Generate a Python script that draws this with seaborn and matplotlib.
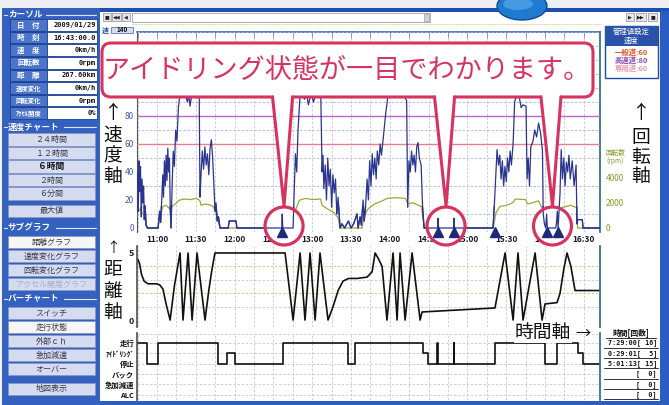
import matplotlib
matplotlib.use("Agg")
import matplotlib.pyplot as plt
import matplotlib.transforms as mtransforms
from matplotlib.patches import Rectangle, FancyBboxPatch, Circle, Polygon, Ellipse
from matplotlib.lines import Line2D
import numpy as np
import seaborn as sns

sns.set_theme(style="white")
plt.rcParams["font.family"] = ["Noto Sans CJK JP", "DejaVu Sans"]
plt.rcParams["axes.unicode_minus"] = False

# ---------------------------------------------------------------- data
# times are minutes after midnight
speed_time = [644.5, 645.0, 645.5, 646.0, 646.6, 647.2, 647.8, 648.4, 649.0, 649.6, 650.2, 650.8, 651.5, 652.5,
              660.8, 662.0, 662.8, 663.6, 664.4, 665.0, 665.7, 666.4, 667.0, 667.7, 668.3, 669.0, 669.6, 670.2,
              670.8, 671.6, 672.5, 673.4, 674.4, 675.4, 676.5, 677.8, 680.0, 682.0, 683.5, 684.5, 685.5, 686.8,
              689.0, 692.6, 693.2, 694.0, 695.0, 696.0, 697.0, 698.0, 699.0, 700.0, 701.0, 702.0, 703.0, 704.0,
              704.8, 705.6, 706.5, 707.5, 708.7, 715.0, 715.8, 721.0, 721.8, 756.4, 756.8, 757.2, 765.2, 766.0,
              767.0, 768.0, 769.0, 770.6, 772.0, 774.0, 775.5, 777.0, 779.0, 781.0, 783.0, 786.6, 787.6, 788.3,
              789.0, 790.0, 791.0, 792.0, 793.0, 794.0, 795.0, 796.0, 797.0, 798.0, 799.0, 800.0, 801.5, 803.0,
              805.0, 808.0, 810.0, 812.0, 814.6, 815.5, 817.0, 818.0, 819.3, 820.2, 821.2, 822.4, 823.4, 824.4,
              825.4, 826.4, 827.4, 828.4, 829.4, 830.3, 831.4, 832.5, 833.5, 835.0, 836.6, 838.6, 841.0, 845.0,
              850.0, 853.0, 853.8, 854.8, 855.8, 856.8, 857.8, 858.8, 859.8, 860.8, 861.8, 862.8, 864.2, 865.3,
              866.5, 876.9, 877.3, 877.7, 889.2, 889.6, 890.0, 919.8, 921.0, 922.9, 924.0, 925.0, 926.0, 927.0,
              928.0, 929.0, 930.0, 931.0, 932.0, 933.0, 934.0, 935.3, 936.5, 938.0, 940.0, 941.5, 943.0, 945.3,
              946.1, 947.0, 948.0, 949.0, 950.7, 952.0, 953.5, 955.0, 956.5, 958.0, 958.6, 959.5, 960.5, 961.2,
              961.8, 968.3, 968.9, 969.5, 970.1, 971.6, 972.5, 973.5, 974.5, 975.5, 976.5, 977.5, 978.5, 979.5,
              981.0, 982.5, 984.0, 984.7, 985.2, 988.8, 989.4, 1002.5]
speed_kmh = [22, 40, 12, 48, 26, 44, 8, 35, 18, 30, 6, 16, 2, 0,
             0, 12, 4, 20, 38, 22, 48, 30, 52, 34, 57, 40, 50, 14,
             0, 28, 55, 44, 70, 62, 86, 96, 99, 95, 90, 96, 87, 95,
             98, 96, 22, 38, 55, 42, 58, 45, 53, 38, 57, 63, 50, 30,
             12, 18, 5, 8, 0, 0, 5, 5, 0, 0, 10, 0, 0, 25,
             53, 40, 70, 95, 99, 92, 97, 88, 96, 90, 97, 96, 40, 52,
             28, 45, 20, 50, 30, 42, 15, 38, 25, 35, 10, 22, 0, 3,
             0, 5, 0, 3, 10, 0, 8, 2, 20, 5, 15, 35, 20, 48,
             30, 53, 38, 50, 35, 55, 45, 60, 52, 65, 80, 95, 99, 97,
             96, 91, 15, 48, 40, 55, 45, 52, 40, 58, 61, 50, 45, 15,
             0, 0, 7, 0, 0, 7, 0, 0, 20, 56, 45, 52, 35, 48,
             30, 44, 33, 50, 40, 55, 45, 60, 90, 95, 94, 86, 88, 87,
             35, 50, 30, 58, 62, 70, 65, 75, 68, 55, 10, 3, 0, 10,
             0, 0, 4, 12, 0, 25, 56, 35, 50, 30, 47, 40, 52, 35,
             48, 30, 45, 3, 6, 6, 0, 0]

rpm_time = [644.5, 647.0, 650.0, 652.5, 660.8, 662.0, 664.5, 667.0, 670.0, 671.5, 674.0, 677.0, 681.0, 686.0,
            690.0, 693.0, 694.0, 697.0, 700.0, 703.0, 705.0, 707.0, 708.7, 765.2, 767.0, 770.0, 775.0, 780.0,
            786.5, 787.5, 792.0, 797.0, 800.0, 801.5, 818.5, 820.0, 823.0, 828.0, 833.0, 838.0, 845.0, 852.0,
            854.0, 858.0, 862.0, 864.5, 866.5, 920.0, 922.0, 925.0, 930.0, 935.0, 937.0, 945.0, 946.5, 950.0,
            955.0, 958.0, 959.5, 971.0, 972.5, 976.0, 980.0, 984.5, 985.2, 1002.5]
rpm_value = [1200, 1500, 1000, 0, 0, 800, 1700, 1800, 1500, 1700, 1900, 2200, 2300, 2250,
             2350, 2200, 1800, 1900, 1850, 1750, 1400, 600, 0, 0, 1400, 2200, 2350, 2250,
             2300, 1800, 1500, 1200, 800, 0, 0, 900, 1500, 1900, 2100, 2350, 2400, 2350,
             1900, 2000, 1800, 1700, 0, 0, 1200, 1700, 1800, 2000, 2300, 2250, 1900, 2000,
             2150, 1500, 0, 0, 1600, 1700, 1800, 1600, 0, 0]

dist_time = [644.5, 645.3, 646.5, 648.0, 650.0, 653.0, 660.0, 662.3, 664.6, 667.0, 670.1, 673.5, 677.8, 680.1,
             684.0, 687.1, 690.9, 697.1, 700.0, 702.5, 704.8, 759.0, 765.2, 770.6, 774.4, 778.3, 782.2, 786.0,
             792.2, 796.1, 800.0, 803.8, 808.0, 814.6, 822.4, 826.3, 828.6, 831.0, 834.0, 837.8, 842.5, 845.6,
             847.9, 851.8, 857.2, 863.4, 864.9, 921.3, 929.1, 935.3, 939.1, 943.0, 952.3, 957.7, 960.0, 969.3,
             971.6, 974.5, 977.0, 980.0, 983.2, 1002.5]
dist_km = [4.6, 4.5, 4.2, 3.4, 2.9, 2.7, 2.7, 2.6, 2.3, 1.2, 0.0, 2.6, 5.0, 0.0,
           5.0, 0.0, 5.0, 0.0, 2.2, 3.8, 5.0, 5.0, 0.0, 5.0, 0.0, 5.0, 0.0, 5.0,
           0.0, 1.0, 2.2, 2.9, 3.1, 3.1, 3.2, 3.6, 5.0, 4.6, 4.0, 0.0, 5.0, 0.0,
           5.0, 0.0, 5.0, 0.0, 0.6, 0.9, 5.0, 0.0, 5.0, 0.0, 5.0, 0.0, 1.2, 1.3,
           2.0, 3.8, 5.0, 4.0, 2.2, 2.2]

status_labels = ["走行", "ｱｲﾄﾞﾘﾝｸﾞ", "停止", "バック", "急加減速", "ALC"]
status_time = [644.5, 652.3, 660.8, 707.2, 714.1, 720.3, 757.4, 807.7, 813.1, 865.7, 869.5, 876.3, 876.9,
               889.3, 889.9, 921.3, 960.0, 969.3, 985.5, 989.4, 1002.5]
status_state = ["走行", "停止", "走行", "停止", "ｱｲﾄﾞﾘﾝｸﾞ", "停止", "走行", "停止", "走行", "ｱｲﾄﾞﾘﾝｸﾞ",
                "停止", "走行", "停止", "走行", "停止", "走行", "停止", "走行", "ｱｲﾄﾞﾘﾝｸﾞ", "停止", "停止"]

idle_events = [756.8, 877.3, 889.6, 921.3, 961.5, 970.0]
idle_groups = [[756.8, 759.6], [877.3, 889.6], [961.5, 970.0]]

time_ticks = ["11:00", "11:30", "12:00", "12:30", "13:00", "13:30", "14:00",
              "14:30", "15:00", "15:30", "16:00", "16:30"]
speed_ticks = [0, 20, 40, 60, 80]
rpm_ticks = [0, 2000, 4000]
limit_names = ["一般道", "高速道", "専用道"]
limit_values = [60, 80, 60]

cursor_labels = ["日　付", "時　刻", "速　度", "回転数", "距　離", "速度変化", "回転変化", "ｱｸｾﾙ開度"]
cursor_values = ["2009/01/29", "16:43:00.0", "0km/h", "0rpm", "267.60km", "0km/h", "0rpm", "0%"]

summary_times = ["7:29:00", "0:29:01", "5:01:13", "", "", ""]
summary_counts = [16, 5, 15, 0, 0, 0]

# ---------------------------------------------------------------- helpers
W, H = 669, 405
fig = plt.figure(figsize=(W / 100, H / 100), dpi=100, facecolor="#f1f2f5")
PX = mtransforms.Affine2D().scale(1 / W, -1 / H).translate(0, 1) + fig.transFigure
PINK = "#d7335f"


def rect(x0, y0, x1, y1, fc, ec="none", lw=0.8, z=-2):
    fig.add_artist(Rectangle((x0, y0), x1 - x0, y1 - y0, transform=PX, facecolor=fc,
                             edgecolor=ec, linewidth=lw, zorder=z))


def text(x, y, s, size, color="black", ha="center", va="center", weight="normal", z=3, **kw):
    fig.text(x, y, s, transform=PX, fontsize=size, color=color, ha=ha, va=va,
             fontweight=weight, zorder=z, **kw)


def line(xs, ys, color, lw=1.0, z=2, **kw):
    fig.add_artist(Line2D(xs, ys, transform=PX, color=color, linewidth=lw, zorder=z, **kw))


def axes_px(x0, y0, x1, y1):
    return fig.add_axes([x0 / W, 1 - y1 / H, (x1 - x0) / W, (y1 - y0) / H])


# ---------------------------------------------------------------- window frame
rect(0, 0, W, 9, "#eceef3", z=-5)
rect(2, 8, 99.5, 405, "#3461bf", z=-4)
rect(99.5, 9, 669, 405, "white", z=-4)
rect(99.5, 8, 669, 11.5, "#1f4fae", z=-3)
rect(660, 11, 669, 405, "#2b5cc2", z=-3)
rect(99.5, 400.5, 669, 405, "#2b5cc2", z=-3)
fig.add_artist(Ellipse((522, 6), 50, 28, transform=PX, facecolor="#1f7ad0", edgecolor="#0d4c90",
                       lw=1, zorder=20))
fig.add_artist(Ellipse((518, 4), 30, 12, transform=PX, facecolor="#5fb0ee", edgecolor="none",
                       alpha=0.6, zorder=21))

# toolbar
for (x0, x1, g) in [(103, 111, "■"), (112, 121, "◀◀"), (122, 130, "◀"),
                    (626, 634, "▶"), (636, 646, "▶▶"), (648, 657, "■")]:
    rect(x0, 13, x1, 21, "#e4e6ea", ec="#8a8f99", lw=0.5, z=1)
    text((x0 + x1) / 2, 17, g, 3.6, color="#222", family=["DejaVu Sans"])
rect(132, 13, 430, 21.5, "white", ec="#9aa0aa", lw=0.6, z=1)
rect(424, 14, 429, 21, "#d0d4da", ec="#8a8f99", lw=0.4, z=1)
line([132, 600], [23.5, 23.5], "#d8c870", 0.6, ls=(0, (2, 1.5)))
text(105, 30, "速", 5, color="#2a50b0", weight="bold")
rect(111, 26.5, 133, 33, "#d4dcf2", ec="#4060a0", lw=0.5, z=1)
text(122, 29.8, "140", 4.6, color="#111", weight="bold")

# ---------------------------------------------------------------- sidebar
def group_header(y, label, x_text_end):
    text(8, y, label, 6.2, color="white", ha="left", weight="bold")
    line([4, 7], [y, y], "#dfe6f7", 0.8)
    line([x_text_end, 96], [y, y], "#dfe6f7", 0.8)


group_header(14.5, "カーソル", 46)
for i, (lab, val) in enumerate(zip(cursor_labels, cursor_values)):
    cy = 25 + i * 12.6
    rect(10, cy - 5.8, 47, cy + 5.8, "#4b74cb", ec="#1d3f8f", lw=0.6, z=1)
    rect(47, cy - 5.8, 97, cy + 5.8, "white", ec="#1d3f8f", lw=0.6, z=1)
    text(28.5, cy, lab, 5.4 if len(lab) < 4 else 4.6, color="white", weight="bold")
    text(96, cy, val, 5.0, color="#111", ha="right", weight="bold", family=["DejaVu Sans Mono"])


def button(y, label, sel=False, bold=False, grey=False, size=5.8):
    rect(8, y - 6.2, 95, y + 6.2, "#f6f6f4" if sel else "#d5dcf0", ec="#8796c8", lw=0.6, z=1)
    color = "#a8afc4" if grey else ("#111" if bold else "#3a3a4a")
    text(51.5, y, label, size, color=color, weight="bold" if bold else "normal")


group_header(127, "速度チャート", 64)
for y, lab in zip([139.5, 153, 166.5, 180, 193.5], ["２４時間", "１２時間", "６時間", "２時間", "６分間"]):
    button(y, lab, bold=(lab == "６時間"), size=6.3 if lab == "６時間" else 5.8)
button(211, "最大値")
group_header(228, "サブグラフ", 56)
button(242, "距離グラフ", sel=True)
button(256, "速度変化グラフ")
button(270, "回転変化グラフ")
button(284, "アクセル開度グラフ", grey=True)
group_header(299, "バーチャート", 64)
for y, lab in zip([313, 327, 341, 355, 369], ["スイッチ", "走行状態", "外部ｃｈ", "急加減速", "オーバー"]):
    button(y, lab, sel=(lab == "走行状態"))
button(389, "地図表示")

# ---------------------------------------------------------------- charts
XMIN, XMAX = 644.5, 1002.5
X0, X1 = 137, 600
RPM_PER_KMH = 111
SPD_LO, SPD_HI = -3, 140
major_minutes = [int(t[:2]) * 60 + int(t[3:]) for t in time_ticks]
minor_minutes = np.arange(645, XMAX, 15)
GRID = dict(color="#c3c7d2", lw=0.6, ls=(0, (3, 2)))
SPEED_COLOR = "#2b3590"
RPM_COLOR = "#9aa838"

# speed / rpm panel
ax_r = axes_px(X0, 32, X1, 232.2)
ax_s = ax_r.twinx()
ax_r.set_facecolor("white")
sns.lineplot(x=rpm_time, y=rpm_value, ax=ax_r, color=RPM_COLOR, lw=0.9, estimator=None)
ax_r.set_xlim(XMIN, XMAX)
ax_r.set_ylim(SPD_LO * RPM_PER_KMH, SPD_HI * RPM_PER_KMH)
ax_r.set_xticks(major_minutes)
ax_r.set_xticks(minor_minutes, minor=True)
ax_r.set_xticklabels(time_ticks, fontsize=6, fontweight="bold", color="#1a1a2a")
ax_r.tick_params(axis="x", which="both", top=True, bottom=False, direction="in", length=4,
                 color="#8090b0", width=0.6, labelbottom=True, labeltop=False, pad=2)
ax_r.grid(which="both", axis="x", **GRID)
ax_r.yaxis.tick_right()
ax_r.set_yticks(rpm_ticks)
ax_r.set_yticklabels([str(v) for v in rpm_ticks], fontsize=6, color="#8a9a28")
ax_r.tick_params(axis="y", length=0, pad=4)
for side, sp in ax_r.spines.items():
    sp.set_visible(side in ("top", "left", "right"))
ax_r.spines["top"].set_color("#3a64b8")
ax_r.spines["top"].set_linewidth(1.2)
ax_r.spines["left"].set_color("#555")
ax_r.spines["left"].set_linewidth(0.8)
ax_r.spines["right"].set_color("#2f6f7f")
ax_r.set_xlabel("")
ax_r.set_ylabel("")

ax_s.set_ylim(SPD_LO, SPD_HI)
ax_s.set_yticks(np.arange(0, 141, 10), minor=True)
ax_s.grid(which="minor", axis="y", color="#aab4da", lw=0.6, ls=(0, (3, 2)))
ax_s.axhline(limit_values[1], color="#b468c8", lw=1.0)
ax_s.axhline(limit_values[0], color="#ea7c92", lw=1.0)
sns.lineplot(x=speed_time, y=speed_kmh, ax=ax_s, color=SPEED_COLOR, lw=0.9, estimator=None)
ax_s.set_xlim(XMIN, XMAX)
ax_s.yaxis.tick_left()
ax_s.set_yticks(speed_ticks)
ax_s.set_yticklabels([str(v) for v in speed_ticks], fontsize=6, color="#4058a8")
ax_s.tick_params(axis="y", which="both", length=0, pad=2)
for sp in ax_s.spines.values():
    sp.set_visible(False)
ax_s.set_xlabel("")
ax_s.set_ylabel("")


def t2px(t):
    return X0 + (t - XMIN) / (XMAX - XMIN) * (X1 - X0)


# circles around idle events
CY, CR = 226, 19
centers = [t2px(np.mean(g)) for g in idle_groups]
for cx in centers:
    fig.add_artist(Circle((cx, CY), CR, transform=PX, facecolor="white", edgecolor="none", zorder=1))
    fig.add_artist(Circle((cx, CY), CR, transform=PX, facecolor="none", edgecolor=PINK, lw=2.3, zorder=3))

# band overlay redrawing the lowest speeds inside the circles
band_top = 206
ax_band = axes_px(X0, band_top, X1, 232.2)
ax_band.set_zorder(2)
ax_band.patch.set_visible(False)
sns.lineplot(x=speed_time, y=speed_kmh, ax=ax_band, color=SPEED_COLOR, lw=0.9, estimator=None)
ax_band.set_xlim(XMIN, XMAX)
ax_band.set_ylim(SPD_LO, SPD_LO + (SPD_HI - SPD_LO) * (232.2 - band_top) / (232.2 - 32))
shift = ax_band.transData + mtransforms.ScaledTranslation(0, -4 / 100, fig.dpi_scale_trans)
ax_band.plot(idle_events, [0] * len(idle_events), ls="none", marker="^", ms=6.5,
             color="#1d2a7a", transform=shift, clip_on=False)
ax_band.axis("off")

# distance panel
ax_d = axes_px(X0, 246, X1, 327)
ax_d.set_facecolor("white")
for v, c in [(1, "#c8c8cc"), (2, "#d6c66c"), (3, "#c8c8cc"), (4, "#d6c66c")]:
    ax_d.axhline(v, color=c, lw=0.6, ls=(0, (3, 2)))
sns.lineplot(x=dist_time, y=dist_km, ax=ax_d, color="#111111", lw=1.2, estimator=None)
ax_d.set_xlim(XMIN, XMAX)
ax_d.set_ylim(-0.52, 5.52)
ax_d.set_xticks(major_minutes)
ax_d.set_xticks(minor_minutes, minor=True)
ax_d.grid(which="both", axis="x", **GRID)
ax_d.tick_params(axis="x", which="both", length=0, labelbottom=False)
ax_d.set_yticks([0, 5])
ax_d.set_yticklabels(["0", "5"], fontsize=6.5, fontweight="bold", color="#222")
ax_d.tick_params(axis="y", length=0, pad=2)
for side, sp in ax_d.spines.items():
    sp.set_visible(side in ("left", "right"))
ax_d.spines["left"].set_color("#555")
ax_d.spines["right"].set_color("#2f6f7f")
ax_d.set_xlabel("")
ax_d.set_ylabel("")

# running-state bar chart
ax_b = axes_px(X0, 333, X1, 400)
ax_b.set_facecolor("white")
for lv in range(len(status_labels)):
    ax_b.axhline(lv, color="#c4c8d0", lw=0.6, ls=(0, (3, 2)))
ax_b.axhline(-0.9, color="#c4c8d0", lw=0.6, ls=(0, (3, 2)))
state_idx = [status_labels.index(s) for s in status_state]
sns.lineplot(x=status_time, y=state_idx, ax=ax_b, color="#111111", lw=1.2, estimator=None,
             drawstyle="steps-post")
ax_b.set_xlim(XMIN, XMAX)
ax_b.set_ylim(5.53, -0.97)
ax_b.set_xticks(major_minutes)
ax_b.set_xticks(minor_minutes, minor=True)
ax_b.grid(which="both", axis="x", **GRID)
ax_b.tick_params(axis="x", which="both", length=0, labelbottom=False)
ax_b.set_yticks(range(len(status_labels)))
ax_b.set_yticklabels(status_labels, fontsize=5.3, fontweight="bold", color="#111")
ax_b.tick_params(axis="y", length=0, pad=2)
for side, sp in ax_b.spines.items():
    sp.set_visible(side in ("left", "right"))
ax_b.spines["left"].set_color("#555")
ax_b.spines["right"].set_color("#2f6f7f")
ax_b.set_xlabel("")
ax_b.set_ylabel("")

# ---------------------------------------------------------------- callout
fig.add_artist(FancyBboxPatch((102, 43), 491, 54, boxstyle="round,pad=0,rounding_size=9",
                              transform=PX, facecolor="white", edgecolor=PINK, lw=2.2, zorder=5))
for cx in centers:
    tip = (cx, CY - CR - 1)
    xl, xr = cx - 11.5, cx + 8.5
    fig.add_artist(Polygon([(xl + 1.2, 93), (xl + 1.2, 97), tip, (xr - 1.2, 97), (xr - 1.2, 93)],
                           closed=True, transform=PX, facecolor="white", edgecolor="none", zorder=6))
    line([xl, tip[0], xr], [97, tip[1], 97], PINK, 2.2, z=7, solid_joinstyle="miter")
text(347, 70, "アイドリング状態が一目でわかります。", 19.5, color=PINK, z=8)

# ---------------------------------------------------------------- axis captions
BIG = 13.5
for ch, y in zip(["↑", "速", "度", "軸"], [113, 136, 156, 176]):
    text(113, y, ch, BIG, color="#111")
text(113, 248, "↑", 10, color="#111")
for ch, y in zip(["距", "離", "軸"], [270, 291, 312]):
    text(113, y, ch, BIG, color="#111")
for ch, y in zip(["↑", "回", "転", "軸"], [114, 137, 157, 176]):
    text(641, y, ch, BIG, color="#111")
text(543, 332, "時間軸", BIG, color="#111", z=8,
     bbox=dict(boxstyle="square,pad=0.05", facecolor="white", edgecolor="none"))
text(583, 333, "→", 11, color="#111", z=8)

# rpm caption
text(615, 153, "回転数", 4.8, color="#8a9a28")
text(615, 161, "(rpm)", 4.8, color="#8a9a28")

# limit settings box
rect(605, 26, 658, 78, "white", ec="#1d4aa0", lw=1.0, z=1)
rect(605, 26, 658, 46, "#2a52a8", z=1)
text(631.5, 32, "管理値設定", 5.3, color="white")
text(631.5, 41, "速度", 5.3, color="white")
for (nm, v, c, y) in zip(limit_names, limit_values, ["#e0562a", "#8a4ab0", "#e89aaa"], [52, 60, 68]):
    text(631.5, y, f"{nm}:{v}", 5.3, color=c, weight="bold")

# summary table
text(631, 333, "時間[回数]", 5.6, color="#111", weight="bold")
line([606, 656], [338, 338], "#333", 0.7)
for i, (tm, cnt) in enumerate(zip(summary_times, summary_counts)):
    y = 343 + i * 10.3
    text(657, y, f"{tm}[{cnt:>3d}]", 4.9, color="#111", ha="right", weight="bold",
         family=["DejaVu Sans Mono"])
    line([604, 658], [y + 4.6, y + 4.6], "#333", 0.7)

fig.savefig("out.png", dpi=100, facecolor=fig.get_facecolor())
